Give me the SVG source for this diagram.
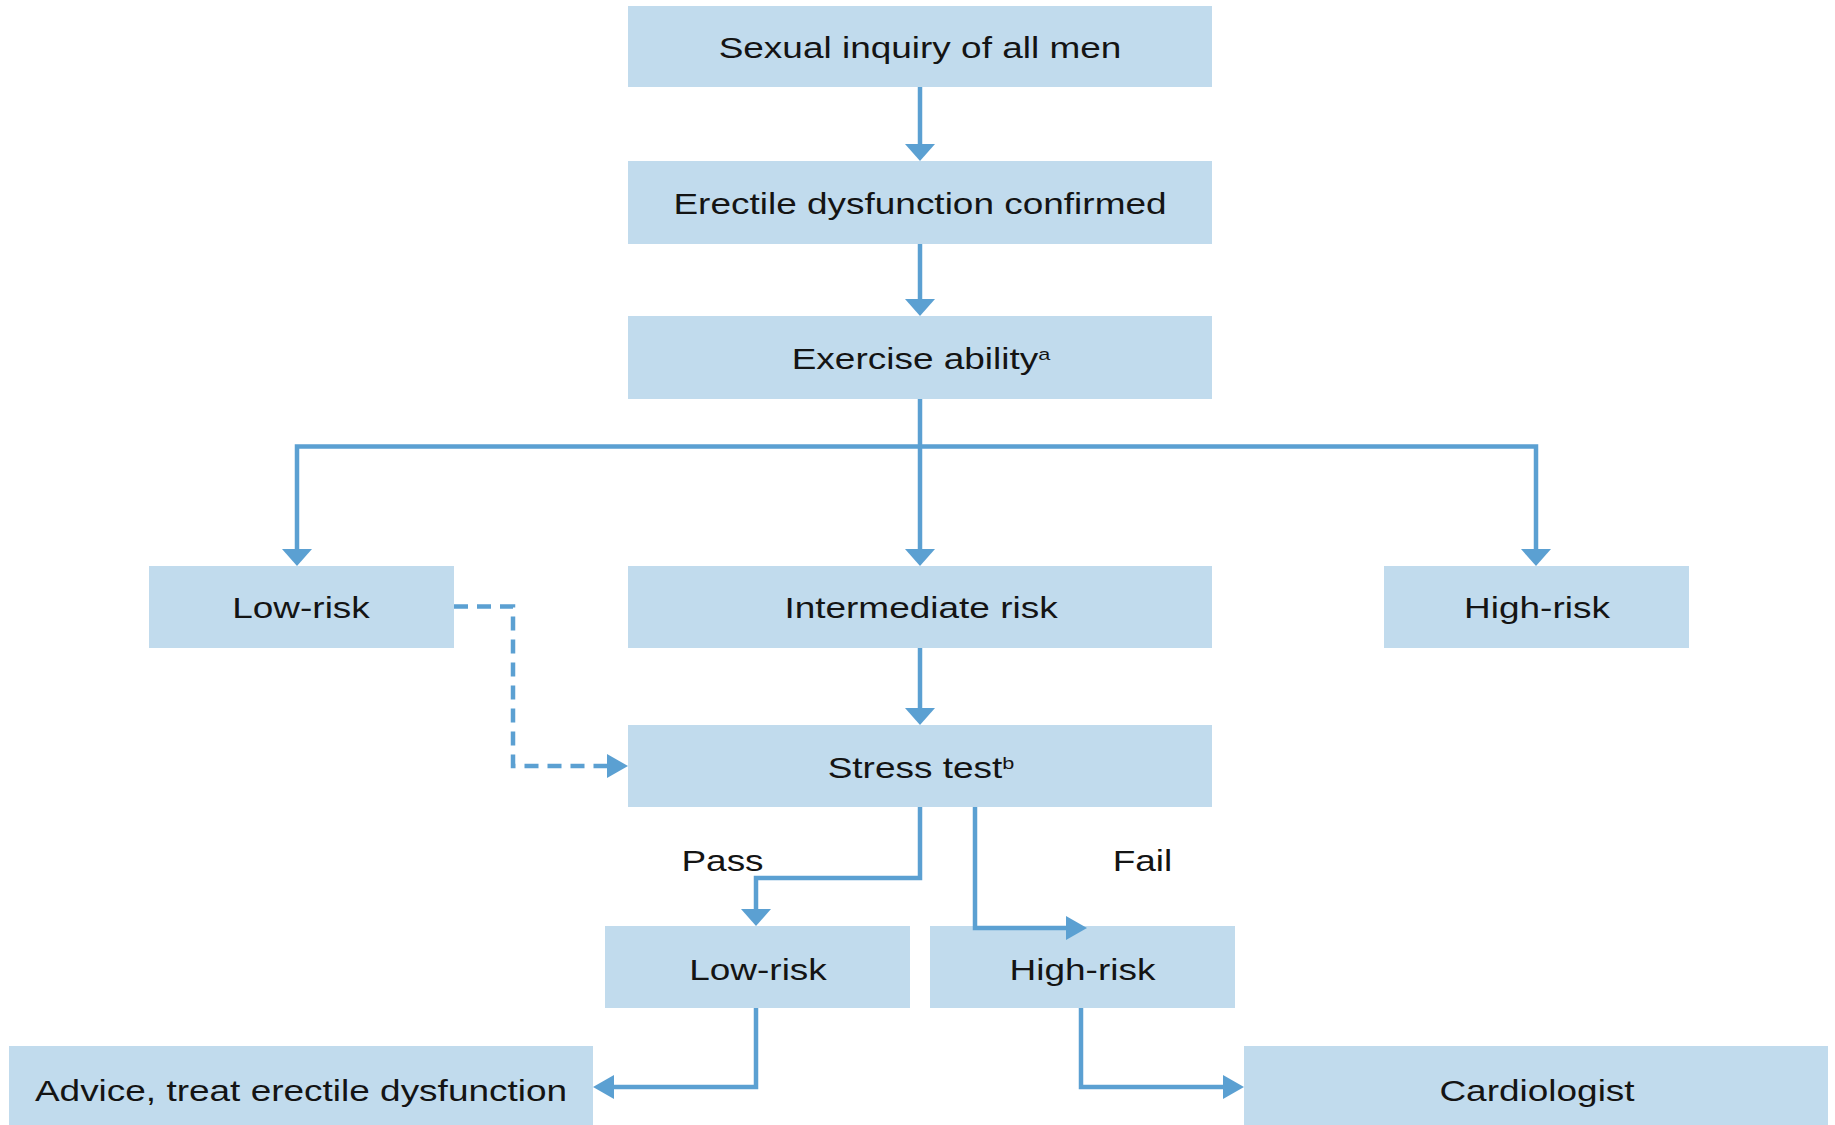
<svg xmlns="http://www.w3.org/2000/svg" width="1835" height="1125" viewBox="0 0 1835 1125">
  <style>
    .box { fill: #c1dbed; }
    .lbl { font-family: "Liberation Sans", Arial, Helvetica, sans-serif; font-size: 29px; fill: #141414; text-anchor: middle; }
    .sup { font-size: 17px; }
    .con { fill: none; stroke: #5ba0d2; stroke-width: 4.5; stroke-linejoin: miter; stroke-linecap: butt; }
    .dash { stroke-dasharray: 14 9; }
  </style>
  <defs>
    <marker id="ahV" markerUnits="userSpaceOnUse" markerWidth="17" markerHeight="30" refX="0" refY="15" orient="auto" overflow="visible">
      <path d="M0,0 L17,15 L0,30 Z" fill="#5ba0d2"/>
    </marker>
    <marker id="ahH" markerUnits="userSpaceOnUse" markerWidth="21" markerHeight="24" refX="0" refY="12" orient="auto" overflow="visible">
      <path d="M0,0 L21,12 L0,24 Z" fill="#5ba0d2"/>
    </marker>
  </defs>
  <rect width="1835" height="1125" fill="#ffffff"/>

  <g id="node-sexual-inquiry">
    <rect class="box" x="628" y="6" width="584" height="81"/>
    <text class="lbl" transform="translate(920 57.5) scale(1.275 1)">Sexual inquiry of all men</text>
  </g>
  <g id="node-ed-confirmed">
    <rect class="box" x="628" y="161" width="584" height="83"/>
    <text class="lbl" transform="translate(920 213.5) scale(1.275 1)">Erectile dysfunction confirmed</text>
  </g>
  <g id="node-exercise-ability">
    <rect class="box" x="628" y="316" width="584" height="83"/>
    <text class="lbl" transform="translate(921 368.5) scale(1.275 1)">Exercise ability<tspan class="sup" dy="-9">a</tspan></text>
  </g>
  <g id="node-low-risk-1">
    <rect class="box" x="149" y="566" width="305" height="82"/>
    <text class="lbl" transform="translate(301 618) scale(1.275 1)">Low-risk</text>
  </g>
  <g id="node-intermediate-risk">
    <rect class="box" x="628" y="566" width="584" height="82"/>
    <text class="lbl" transform="translate(921 618) scale(1.275 1)">Intermediate risk</text>
  </g>
  <g id="node-high-risk-1">
    <rect class="box" x="1384" y="566" width="305" height="82"/>
    <text class="lbl" transform="translate(1537 618) scale(1.275 1)">High-risk</text>
  </g>
  <g id="node-stress-test">
    <rect class="box" x="628" y="725" width="584" height="82"/>
    <text class="lbl" transform="translate(921 777.5) scale(1.275 1)">Stress test<tspan class="sup" dy="-9">b</tspan></text>
  </g>
  <g id="label-pass">
    <text class="lbl" transform="translate(722.5 870.5) scale(1.275 1)">Pass</text>
  </g>
  <g id="label-fail">
    <text class="lbl" transform="translate(1142.5 870.5) scale(1.275 1)">Fail</text>
  </g>
  <g id="node-low-risk-2">
    <rect class="box" x="605" y="926" width="305" height="82"/>
    <text class="lbl" transform="translate(758 980) scale(1.275 1)">Low-risk</text>
  </g>
  <g id="node-high-risk-2">
    <rect class="box" x="930" y="926" width="305" height="82"/>
    <text class="lbl" transform="translate(1082.5 980) scale(1.275 1)">High-risk</text>
  </g>
  <g id="node-advice">
    <rect class="box" x="9" y="1046" width="584" height="82"/>
    <text class="lbl" transform="translate(301 1101) scale(1.275 1)">Advice, treat erectile dysfunction</text>
  </g>
  <g id="node-cardiologist">
    <rect class="box" x="1244" y="1046" width="584" height="82"/>
    <text class="lbl" transform="translate(1537 1101) scale(1.275 1)">Cardiologist</text>
  </g>

  <g id="connectors">
    <path class="con" d="M920,87 V144" marker-end="url(#ahV)"/>
    <path class="con" d="M920,244 V299" marker-end="url(#ahV)"/>
    <path class="con" d="M920,399 V549" marker-end="url(#ahV)"/>
    <path class="con" d="M920,446.5 H297 V549" marker-end="url(#ahV)"/>
    <path class="con" d="M920,446.5 H1536 V549" marker-end="url(#ahV)"/>
    <path class="con" d="M920,648 V708" marker-end="url(#ahV)"/>
    <path class="con dash" d="M454,606.5 H513 V766 H607" marker-end="url(#ahH)"/>
    <path class="con" d="M920,807 V878 H756 V909" marker-end="url(#ahV)"/>
    <path class="con" d="M975,807 V928 H1066" marker-end="url(#ahH)"/>
    <path class="con" d="M756,1008 V1087 H614" marker-end="url(#ahH)"/>
    <path class="con" d="M1081,1008 V1087 H1223" marker-end="url(#ahH)"/>
  </g>
</svg>
